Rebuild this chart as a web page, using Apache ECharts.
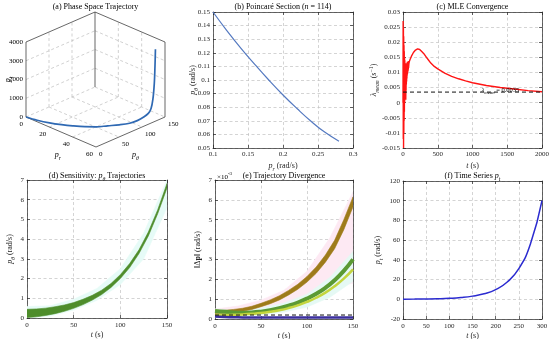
<!DOCTYPE html>
<html><head><meta charset="utf-8">
<script src="https://cdn.jsdelivr.net/npm/echarts@6.0.0/dist/echarts.min.js"></script>
<style>html,body{margin:0;padding:0;background:#fff}#c{width:550px;height:339px}</style>
</head><body><div id="c"></div>
<script>
// ================= DATA =================
// (a) phase-space trajectory (p_r, p_theta, p_t)
const phaseTicksPr  = [0, 20, 40, 60];
const phaseTicksPth = [0, 50, 100, 150];
const phaseTicksPt  = [0, 1000, 2000, 3000, 4000];
const trajPr  = [0, 8, 16, 23, 29, 35, 40, 44, 48, 51, 52, 52, 52, 52, 52, 52, 52, 52];
const trajPth = [0, 4, 10.6, 19, 28, 39, 51, 66, 81, 96, 110, 124, 134, 140, 144, 147, 148.5, 149.5];
const trajPt  = [0, 0, 0, 0, 0, 0, 0, 0, 0, 5, 20, 60, 150, 350, 800, 1600, 2500, 3400];

// (b) Poincare section
const pcPr  = [0.10, 0.12, 0.14, 0.16, 0.18, 0.20, 0.22, 0.24, 0.26, 0.28];
const pcPth = [0.150, 0.1362, 0.1233, 0.1113, 0.0998, 0.0890, 0.0790, 0.0697, 0.0615, 0.0550];
const pcCount = 114;

// (c) MLE convergence
const mleT = [0,2,4,6,8,10,12,14,16,18,20,22,24,26,28,30,32,34,36,38,40,42,44,46,48,50,52,54,56,58,60,62,64,66,68,70,72,74,76,78,80,
  85,90,100,120,150,180,210,240,270,300,350,400,450,500,600,700,800,900,1000,1200,1400,1600,1800,2000];
const mleV = [0,0.027,-0.012,0.025,-0.015,0.022,-0.010,0.019,-0.006,0.017,-0.003,0.015,0.000,0.014,0.002,0.013,0.004,0.013,0.003,0.012,0.001,
  0.012,0.004,0.013,0.006,0.013,0.007,0.013,0.008,0.013,0.009,0.0135,0.0095,0.0135,0.010,0.0135,0.0105,0.0135,0.011,0.0138,0.0115,
  0.0128,0.0135,0.0142,0.0153,0.0166,0.0174,0.0178,0.0176,0.0169,0.0162,0.0146,0.0131,0.0120,0.0112,0.0098,0.0087,0.0079,0.0072,0.0066,
  0.0057,0.0050,0.0045,0.0040,0.0036];
const mleMean = 0.0035;
const mleLabelAt = [1130, 0.0041];

// (d) sensitivity band of p_theta trajectories
const sensT  = [0,10,20,30,40,50,60,70,80,90,100,110,120,130,140,150];
const sensLo = [0.02,0.06,0.13,0.22,0.34,0.49,0.68,0.91,1.19,1.55,2.00,2.56,3.27,4.16,5.29,6.60];
const sensHi = [0.44,0.46,0.50,0.57,0.66,0.78,0.95,1.15,1.41,1.75,2.20,2.76,3.46,4.36,5.48,6.82];
const envT      = [0,25,50,75,100,125,150];
const sensEnvLo = [0.00,0.10,0.40,0.90,1.70,3.00,5.60];
const sensEnvHi = [0.58,0.62,0.95,1.50,2.50,4.30,7.00];

// (e) trajectory divergence (values in units of 1e-3 rad/s)
const divT       = [0,10,20,30,40,50,60,70,80,90,100,110,120,130,140,150];
const divBrownLo = [0.28,0.29,0.33,0.39,0.48,0.62,0.77,0.96,1.21,1.50,1.86,2.30,2.86,3.54,4.50,5.65];
const divBrownHi = [0.43,0.44,0.48,0.54,0.64,0.79,0.96,1.17,1.44,1.75,2.14,2.62,3.22,3.96,5.00,6.15];
const divGreen   = [0.40,0.36,0.33,0.32,0.33,0.37,0.44,0.54,0.67,0.83,1.03,1.27,1.57,1.95,2.42,3.00];
const divYellow  = [0.20,0.20,0.21,0.23,0.26,0.30,0.36,0.44,0.55,0.69,0.86,1.07,1.33,1.65,2.03,2.50];
const divBlue    = [0.12,0.10,0.09,0.08,0.075,0.07,0.07,0.07,0.07,0.07,0.07,0.07,0.07,0.07,0.07,0.07];
const divThresh  = 0.2;
const divPinkLo  = [0.20,0.30,0.45,0.70,1.20,1.60,1.80];
const divPinkHi  = [0.50,0.65,0.95,1.45,2.40,4.10,6.40];
const divCyanLo  = [0.05,0.10,0.20,0.35,0.60,1.10,1.90];
const divCyanHi  = [0.50,0.45,0.55,0.80,1.25,2.10,3.40];

// (f) time series p_t
const tsT  = [0,25,50,75,100,125,150,175,200,225,250,275,300];
const tsPt = [0.1,0.18,0.3,0.55,1.0,1.8,3.2,5.6,9.8,17.5,31,56,100];

// ================= STYLE / LAYOUT =================
const SERIF = "'Liberation Serif','DejaVu Serif',serif";
const INK = '#262626';
function rich(fs){
  const sb = Math.round(fs*0.72*10)/10;
  return {
    n:{fontFamily:SERIF,fontSize:fs,color:INK,lineHeight:fs+4},
    i:{fontFamily:SERIF,fontSize:fs,fontStyle:'italic',color:INK,lineHeight:fs+4},
    b:{fontFamily:SERIF,fontSize:fs,fontWeight:'bold',color:INK,lineHeight:fs+4},
    s:{fontFamily:SERIF,fontSize:sb,fontStyle:'italic',color:INK,lineHeight:sb,verticalAlign:'bottom'},
    u:{fontFamily:SERIF,fontSize:sb,color:INK,lineHeight:sb,verticalAlign:'top'}
  };
}
const grids = [
  {left:26,  top:12,  width:139, height:135},  // (a) 3D projection plane
  {left:213, top:12,  width:140, height:136},  // (b)
  {left:403, top:12,  width:139, height:136},  // (c)
  {left:27,  top:180, width:140, height:138},  // (d)
  {left:215, top:180, width:138, height:139},  // (e)
  {left:403, top:181, width:139, height:138}   // (f)
];
const fmtNum = v => String(+(+v).toFixed(6));
const xAxes = [], yAxes = [];
function ax(g, c, pos, main){
  return {
    gridIndex:g, type:'value', position:pos, min:c.min, max:c.max, interval:c.interval,
    axisLine:{show:true,onZero:false,lineStyle:{color:INK,width:0.7}},
    axisTick:{show:true,inside:true,length:3,lineStyle:{color:INK,width:0.7}},
    splitLine:{show:main,lineStyle:{color:'#c2c2c2',width:0.7,type:[3,2.5]}},
    axisLabel:{show:main,fontFamily:SERIF,fontSize:7,color:INK,margin:c.margin||3,formatter:fmtNum},
    name: main ? c.name : '', nameLocation:'middle', nameGap:c.gap, nameMoveOverlap:false,
    nameTextStyle:{fontFamily:SERIF,fontSize:8,color:INK,rich:rich(8)}
  };
}
function addAxes(g, xc, yc){
  xAxes.push(ax(g,xc,'bottom',true), ax(g,xc,'top',false));
  yAxes.push(ax(g,yc,'left',true), ax(g,yc,'right',false));
}
// 3D plane axes (hidden)
xAxes.push({gridIndex:0,type:'value',min:0,max:139,show:false},{gridIndex:0,type:'value',min:0,max:139,show:false});
yAxes.push({gridIndex:0,type:'value',min:-30,max:105,show:false},{gridIndex:0,type:'value',min:-30,max:105,show:false});
addAxes(1,{min:0.1,max:0.3,interval:0.05,name:'{i|p}{s|r}{n| (rad/s)}',gap:12},
          {min:0.05,max:0.15,interval:0.01,name:'{i|p}{s|θ}{n| (rad/s)}',gap:14});
addAxes(2,{min:0,max:2000,interval:500,name:'{i|t}{n| (s)}',gap:12},
          {min:-0.015,max:0.03,interval:0.005,name:'{i|λ}{s|mean}{n| (}{i|s}{u|−1}{n|)}',gap:23});
addAxes(3,{min:0,max:150,interval:50,name:'{i|t}{n| (s)}',gap:11,margin:4},
          {min:0,max:7,interval:1,name:'{i|p}{s|θ}{n| (rad/s)}',gap:11});
addAxes(4,{min:0,max:150,interval:50,name:'{i|t}{n| (s)}',gap:11,margin:4},
          {min:0,max:7,interval:1,name:'{n|‖Δ}{b|p}{n|‖ (rad/s)}',gap:11});
addAxes(5,{min:0,max:300,interval:50,name:'{i|t}{n| (s)}',gap:11,margin:4},
          {min:-20,max:120,interval:20,name:'{i|p}{s|t}{n| (rad/s)}',gap:19});

// ---------- 3D orthographic projection onto plane (a) ----------
const prMax = phaseTicksPr[phaseTicksPr.length-1];
const thMax = phaseTicksPth[phaseTicksPth.length-1];
const ptMax = phaseTicksPt[phaseTicksPt.length-1];
function proj(pr, pth, pt){
  const a = pr/prMax, b = pth/thMax, c = pt/ptMax;
  return [70*a + 69*b, 30*(b - a) + 75*c];
}
const segs = [];
phaseTicksPth.forEach(th => { if (th>0 && th<thMax) segs.push([0,th,0, 0,th,ptMax,'g']); });
phaseTicksPr.forEach(r => { if (r>0 && r<prMax) segs.push([r,thMax,0, r,thMax,ptMax,'g']); });
phaseTicksPt.forEach(z => { if (z>0 && z<ptMax){ segs.push([0,0,z, 0,thMax,z,'g']); segs.push([0,thMax,z, prMax,thMax,z,'g']); } });
phaseTicksPr.forEach(r => { if (r<prMax) segs.push([r,0,0, r,thMax,0,'g']); });
phaseTicksPth.forEach(th => { if (th>0) segs.push([0,th,0, prMax,th,0,'g']); });
segs.push([0,0,0, 0,0,ptMax,'k'],[0,thMax,0, 0,thMax,ptMax,'k'],[prMax,thMax,0, prMax,thMax,ptMax,'k'],
          [0,0,ptMax, 0,thMax,ptMax,'k'],[0,thMax,ptMax, prMax,thMax,ptMax,'k'],
          [0,0,0, prMax,0,0,'k'],[prMax,0,0, prMax,thMax,0,'k']);
const segData = segs.map(s => { const p = proj(s[0],s[1],s[2]), q = proj(s[3],s[4],s[5]); return [p[0],p[1],q[0],q[1]]; });

const labs = [];
phaseTicksPt.forEach(z => labs.push({p:proj(0,0,z), t:'{n|'+z+'}', al:'right', dx:-3, dy:0}));
phaseTicksPr.forEach(r => labs.push({p:proj(r,0,0), t:'{n|'+r+'}', al:'right', dx:-3, dy:7}));
phaseTicksPth.forEach(th => labs.push({p:proj(prMax,th,0), t:'{n|'+th+'}', al:'left', dx:3, dy:7}));
labs.push({p:proj(0,0,ptMax/2), t:'{i|p}{s|t}', al:'center', dx:-18, dy:0, rot:Math.PI/2, fs:8});
labs.push({p:proj(prMax/2,0,0), t:'{i|p}{s|r}', al:'center', dx:-3, dy:23, fs:8});
labs.push({p:proj(prMax,thMax/2,0), t:'{i|p}{s|θ}', al:'center', dx:5, dy:23, fs:8});

function band(g, t, lo, hi, color, z){
  return {type:'custom', xAxisIndex:2*g, yAxisIndex:2*g, z:z||2, silent:true, clip:true,
    data: t.map((x,i)=>[x, lo[i], hi[i]]), encode:{x:0, y:[1,2]},
    renderItem(params, api){
      if (params.dataIndex !== 0) return null;
      const pts = [];
      for (let i=0;i<t.length;i++) pts.push(api.coord([t[i], lo[i]]));
      for (let i=t.length-1;i>=0;i--) pts.push(api.coord([t[i], hi[i]]));
      return {type:'polygon', shape:{points:pts}, style:{fill:color, stroke:color, lineWidth:0.6}};
    }};
}
function line(g, xs, ys, color, width, extra){
  return Object.assign({type:'line', xAxisIndex:2*g, yAxisIndex:2*g, showSymbol:false, symbol:'none',
    data: xs.map((x,i)=>[x, ys[i]]), lineStyle:{color, width}, itemStyle:{color}, z:3, silent:true}, extra||{});
}

const series = [
  {type:'custom', xAxisIndex:0, yAxisIndex:0, silent:true, z:1, clip:false,
   data: segData, encode:{x:[0,2], y:[1,3]},
   renderItem(params, api){
     const s = segs[params.dataIndex];
     const p = api.coord([api.value(0), api.value(1)]), q = api.coord([api.value(2), api.value(3)]);
     const k = s[6] === 'k';
     return {type:'line', shape:{x1:p[0],y1:p[1],x2:q[0],y2:q[1]},
       style:{stroke: k ? INK : '#bdbdbd', lineWidth: 0.7, lineDash: k ? null : [3,2.5]}};
   }},
  {type:'custom', xAxisIndex:0, yAxisIndex:0, silent:true, z:4, clip:false,
   data: labs.map(l => l.p), encode:{x:0, y:1},
   renderItem(params, api){
     const l = labs[params.dataIndex];
     const p = api.coord(l.p);
     return {type:'text', x:p[0]+l.dx, y:p[1]+l.dy, rotation:l.rot||0,
       style:{text:l.t, rich:rich(l.fs||7), align:l.al, verticalAlign:'middle', textAlign:l.al, textVerticalAlign:'middle'}};
   }},
  {type:'line', xAxisIndex:0, yAxisIndex:0, showSymbol:false, symbol:'none', smooth:0.35, silent:true, z:3,
   data: trajPr.map((r,i)=>proj(r, trajPth[i], trajPt[i])), lineStyle:{color:'#2f69b3', width:1.7}},
  // (b)
  line(1, pcPr, pcPth, '#5479c0', 1.2, {smooth:true}),
  // (c)
  line(2, mleT, mleV, '#ff1414', 1.4),
  line(2, [0, 2000], [mleMean, mleMean], '#111', 1, {lineStyle:{color:'#111', width:1, type:[4,3]}, z:4}),
  {type:'custom', xAxisIndex:4, yAxisIndex:4, silent:true, z:5, data:[mleLabelAt], encode:{x:0,y:1},
   renderItem(params, api){
     const p = api.coord(mleLabelAt);
     return {type:'text', x:p[0], y:p[1], style:{text:'{i|λ}{s|mean}{n| = '+mleMean+'}', rich:rich(6.5),
       align:'left', verticalAlign:'middle', textAlign:'left', textVerticalAlign:'middle'}};
   }},
  // (d)
  band(3, envT, sensEnvLo, sensEnvHi, '#e6fbf7', 1),
  band(3, sensT, sensLo, sensHi, '#4e8d2b', 3),
  // (e)
  band(4, envT, divPinkLo, divPinkHi, '#fde9f3', 1),
  band(4, envT, divCyanLo, divCyanHi, '#e5f9f4', 1),
  band(4, divT, divBrownLo, divBrownHi, '#9e7b1a', 3),
  line(4, divT, divGreen, '#5b9a34', 4, {smooth:true}),
  line(4, divT, divYellow, '#c4d53e', 2.5, {smooth:true}),
  line(4, divT, divBlue, '#3b2f9e', 2.5, {smooth:true}),
  line(4, [0,150], [divThresh, divThresh], '#111', 1, {lineStyle:{color:'#111', width:1, type:[4,3]}, z:4}),
  // (f)
  line(5, tsT, tsPt, '#2b2bd0', 1.5, {smooth:true})
];

const titles = [
  '{n|(a) Phase Space Trajectory}',
  '{n|(b) Poincaré Section (}{i|n}{n| = '+pcCount+')}',
  '{n|(c) MLE Convergence}',
  '{n|(d) Sensitivity: }{i|p}{s|θ}{n| Trajectories}',
  '{n|(e) Trajectory Divergence}',
  '{n|(f) Time Series }{i|p}{s|t}'
];
const graphic = titles.map((t,g) => ({type:'text', silent:true,
  x: grids[g].left + grids[g].width/2, y: g < 3 ? 6.5 : 176,
  style:{text:t, rich:rich(8), align:'center', verticalAlign:'middle', textAlign:'center', textVerticalAlign:'middle'}}));
graphic.push({type:'text', silent:true, x:grids[4].left+2, y:177,
  style:{text:'{n|×10}{u|-3}', rich:rich(7), align:'left', verticalAlign:'middle', textAlign:'left', textVerticalAlign:'middle'}});

const chart = echarts.init(document.getElementById('c'), null, {renderer:'canvas'});
chart.setOption({
  animation:false, backgroundColor:'#ffffff',
  grid: grids.map(g => Object.assign({show:false, containLabel:false, outerBoundsMode:'none'}, g)),
  xAxis:xAxes, yAxis:yAxes, series, graphic
});
</script></body></html>
